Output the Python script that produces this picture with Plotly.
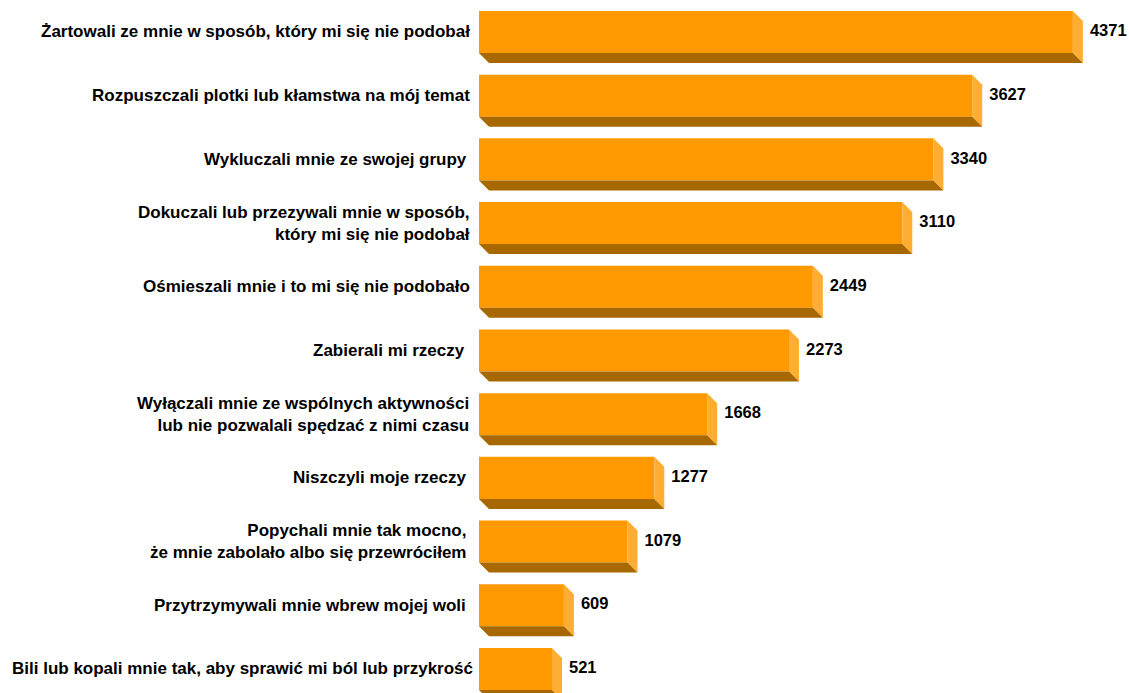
import plotly.graph_objects as go

categories = [
    "Żartowali ze mnie w sposób, który mi się nie podobał",
    "Rozpuszczali plotki lub kłamstwa na mój temat",
    "Wykluczali mnie ze swojej grupy",
    "Dokuczali lub przezywali mnie w sposób,<br>który mi się nie podobał",
    "Ośmieszali mnie i to mi się nie podobało",
    "Zabierali mi rzeczy",
    "Wyłączali mnie ze wspólnych aktywności<br>lub nie pozwalali spędzać z nimi czasu",
    "Niszczyli moje rzeczy",
    "Popychali mnie tak mocno,<br>że mnie zabolało albo się przewróciłem",
    "Przytrzymywali mnie wbrew mojej woli",
    "Bili lub kopali mnie tak, aby sprawić mi ból lub przykrość",
]
values = [4371, 3627, 3340, 3110, 2449, 2273, 1668, 1277, 1079, 609, 521]
label_shift = [-7, -7, -10, -7, -7, -12, -8, -11, -11, -11, -4]

FRONT, SIDE, BOTTOM = "#FF9900", "#FFAD33", "#A86800"
FONT = dict(family="Liberation Sans, Arial, sans-serif", size=17, color="#000000")
BAR_H = 0.66
BASE = -18.5  # bars start slightly left of the axis zero
DX, DY = 74, 0.157  # extrusion depth in axis units

ys = list(range(len(values)))
side_x, side_y, bot_x, bot_y = [], [], [], []
for y, v in zip(ys, values):
    top, bot = y - BAR_H / 2, y + BAR_H / 2
    side_x += [v, v + DX, v + DX, v, v, None]
    side_y += [top, top + DY, bot + DY, bot, top, None]
    bot_x += [BASE, v, v + DX, BASE + DX, BASE, None]
    bot_y += [bot, bot, bot + DY, bot + DY, bot, None]

fig = go.Figure()
fig.add_trace(go.Bar(x=[v - BASE for v in values], base=BASE, y=ys, orientation="h", width=BAR_H,
                     marker=dict(color=FRONT, line=dict(width=0)), hoverinfo="skip"))
fig.add_trace(go.Scatter(x=side_x, y=side_y, mode="lines", fill="toself", fillcolor=SIDE,
                         line=dict(width=0), hoverinfo="skip"))
fig.add_trace(go.Scatter(x=bot_x, y=bot_y, mode="lines", fill="toself", fillcolor=BOTTOM,
                         line=dict(width=0), hoverinfo="skip"))
fig.add_trace(go.Scatter(x=[v + DX + 52 for v in values], y=ys, mode="text",
                         text=[f"<b>{v}</b>" for v in values], textposition="middle right",
                         textfont=dict(family=FONT["family"], size=16.5, color="#000000"),
                         cliponaxis=False, hoverinfo="skip"))

for y, c, s in zip(ys, categories, label_shift):
    fig.add_annotation(x=BASE, y=y, xref="x", yref="y", text=f"<b>{c}</b>", showarrow=False,
                       xanchor="right", yanchor="middle", align="right", xshift=s, yshift=0,
                       font=FONT)

fig.update_layout(
    width=1129, height=693, margin=dict(l=0, r=0, t=0, b=0),
    paper_bgcolor="white", plot_bgcolor="white", showlegend=False,
    xaxis=dict(range=[-3559, 4786], visible=False),
    yaxis=dict(range=[10.377, -0.502], visible=False),
)
fig.write_html("out.html", config=dict(displayModeBar=False),
               post_script="document.body.style.margin='0';document.body.style.overflow='hidden';")
